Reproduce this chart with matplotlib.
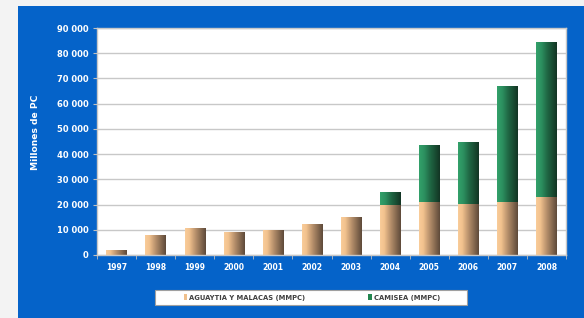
import numpy as np
import matplotlib.pyplot as plt
from matplotlib.colors import LinearSegmentedColormap
from matplotlib.patches import Rectangle
from matplotlib.ticker import FuncFormatter, FixedLocator

# datos (millones de pies cubicos)
years = ['1997', '1998', '1999', '2000', '2001', '2002', '2003',
         '2004', '2005', '2006', '2007', '2008']
aguaytia = [1800, 8000, 10700, 9200, 9800, 12300, 14900,
            19700, 20900, 20200, 20900, 23000]
camisea = [0, 0, 0, 0, 0, 0, 0,
           5200, 22600, 24700, 46100, 61300]
labels = ['AGUAYTIA Y MALACAS (MMPC)', 'CAMISEA (MMPC)']

blue = '#0563c9'
tan_cmap = LinearSegmentedColormap.from_list(
    'tan', [(0, '#f9cc99'), (0.2, '#f2c28e'), (0.5, '#b8916c'), (1, '#5e4a3a')])
green_cmap = LinearSegmentedColormap.from_list(
    'grn', [(0, '#33a16a'), (0.25, '#2c9060'), (0.55, '#1f6643'), (1, '#133524')])

fig = plt.figure(figsize=(5.84, 3.18), dpi=100)
fig.patch.set_facecolor('#f3f3f3')
fig.patches.append(Rectangle((18 / 584, 0), 1 - 18 / 584, 1 - 6 / 318,
                             transform=fig.transFigure, facecolor=blue,
                             edgecolor='none', zorder=-10))

ax = fig.add_axes([97 / 584, 63 / 318, 469 / 584, 227 / 318])
ax.set_facecolor('white')

x = np.arange(len(years))
grad = np.linspace(0, 1, 64).reshape(1, -1)


def gradient_bars(bars, cmap):
    for b in bars:
        if b.get_height() <= 0:
            continue
        b.set_facecolor('none')
        x0, y0 = b.get_x(), b.get_y()
        im = ax.imshow(grad, cmap=cmap, aspect='auto', interpolation='bilinear',
                       extent=(x0, x0 + b.get_width(), y0, y0 + b.get_height()),
                       zorder=2)
        im.set_clip_path(b)


b1 = ax.bar(x, aguaytia, width=0.52, color='#e9b887', label=labels[0],
            zorder=2, linewidth=0)
b2 = ax.bar(x, camisea, width=0.52, bottom=aguaytia, color='#2a8a58',
            label=labels[1], zorder=2, linewidth=0)
gradient_bars(b1, tan_cmap)
gradient_bars(b2, green_cmap)

ax.set_xlim(-0.5, len(years) - 0.5)
ax.set_ylim(0, 90000)
ax.set_yticks(np.arange(0, 90001, 10000))
ax.yaxis.set_major_formatter(FuncFormatter(lambda v, p: f'{int(v):,}'.replace(',', ' ')))
ax.set_xticks(x)
ax.set_xticklabels(years)
ax.xaxis.set_minor_locator(FixedLocator(np.arange(-0.5, len(years), 1)))
ax.tick_params(axis='x', which='major', length=0, pad=6)
ax.tick_params(axis='x', which='minor', length=3, color='#bfbfbf')
ax.tick_params(axis='y', length=3, color='#bfbfbf', pad=3)
for lab in ax.get_xticklabels() + ax.get_yticklabels():
    lab.set_color('white')
    lab.set_fontweight('bold')
    lab.set_fontsize(6)
for lab in ax.get_xticklabels():
    lab.set_fontsize(5.5)

ax.grid(axis='y', color='#c8c8c8', linewidth=1.0, zorder=0)
ax.set_axisbelow(True)
for s in ax.spines.values():
    s.set_color('#c8c8c8')
    s.set_linewidth(1.0)

fig.text(35 / 584, 1 - 132 / 318, 'Millones de PC', rotation=90, color='white',
         fontsize=6.6, fontweight='bold', ha='center', va='center')

# caja de la leyenda
fig.patches.append(Rectangle((155 / 584, 1 - 305 / 318), 312 / 584, 15 / 318,
                             transform=fig.transFigure, facecolor='white',
                             edgecolor='#a0a0a0', linewidth=0.8, zorder=1))
h1 = Rectangle((0, 0), 1, 1, facecolor='#f0c08c')
h2 = Rectangle((0, 0), 1, 1, facecolor='#23864f')
leg = fig.legend([h1, h2], labels, ncol=2, loc='center', mode='expand',
                 bbox_to_anchor=(184 / 584, 1 - 305 / 318, 256 / 584, 15 / 318),
                 frameon=False, borderaxespad=0, borderpad=0,
                 handlelength=0.5, handleheight=0.9, handletextpad=0.3,
                 prop={'weight': 'bold', 'size': 4.9})
leg.set_zorder(2)
for t in leg.get_texts():
    t.set_color('#404040')

fig.savefig('out.png', dpi=100, facecolor=fig.get_facecolor())
